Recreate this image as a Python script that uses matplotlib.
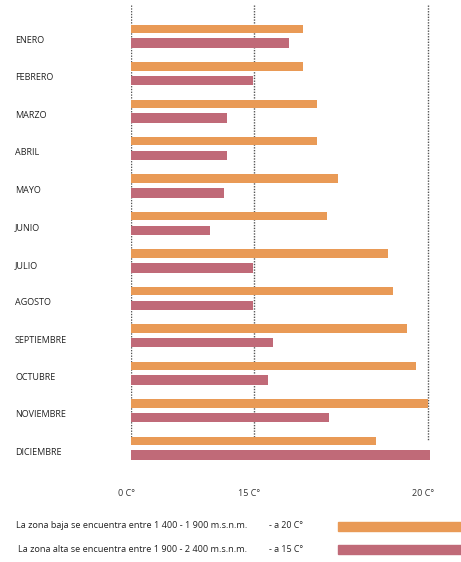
import numpy as np
import matplotlib
matplotlib.use("Agg")
import matplotlib.pyplot as plt
import matplotlib.transforms as mtransforms
from matplotlib.patches import Rectangle

plt.rcParams['font.family'] = ['Open Sans', 'DejaVu Sans']

# data (degrees C)
months = ['ENERO', 'FEBRERO', 'MARZO', 'ABRIL', 'MAYO', 'JUNIO', 'JULIO',
          'AGOSTO', 'SEPTIEMBRE', 'OCTUBRE', 'NOVIEMBRE', 'DICIEMBRE']
zona_baja = [16.4, 16.4, 16.8, 16.8, 17.4, 17.1, 18.85, 19.0, 19.4, 19.65, 20.0, 18.5]
zona_alta = [16.0, 14.9, 11.7, 11.7, 11.3, 9.6, 14.9, 14.9, 15.55, 15.4, 17.15, 20.05]
tick_vals = [0, 15, 20]
tick_labels = ['0 C°', '15 C°', '20 C°']
legend_texts = ['La zona baja se encuentra entre 1 400 - 1 900 m.s.n.m.',
                'La zona alta se encuentra entre 1 900 - 2 400 m.s.n.m.']
legend_temps = ['- a 20 C°', '- a 15 C°']

c_baja = '#E99A56'
c_alta = '#C06A78'


# the axis of the original is not linear: 0-15 is short, 15-20 is long
def fwd(v):
    v = np.asarray(v, dtype=float)
    return np.where(v <= 15, v * 123 / 15, 123 + (v - 15) * 174 / 5)


def inv(p):
    p = np.asarray(p, dtype=float)
    return np.where(p <= 123, p * 15 / 123, 15 + (p - 123) * 5 / 174)


W, H = 461, 562
fig = plt.figure(figsize=(W / 100, H / 100), dpi=100)

x0, x1 = 131, 445.4
top, bottom = 0, 470
ax = fig.add_axes([x0 / W, 1 - bottom / H, (x1 - x0) / W, (bottom - top) / H])
ax.set_xscale('function', functions=(fwd, inv))
ax.set_xlim(0, 20.5)
step = 37.45
ax.set_ylim((bottom - 36) / step, (top - 36) / step)

y = np.arange(len(months))
off = 0.19
ax.barh(y - off, zona_baja, height=8.5 / step, color=c_baja, zorder=3)
ax.barh(y + off, zona_alta, height=9.5 / step, color=c_alta, zorder=3)

ax.vlines(tick_vals, (5 - 36) / step, (440 - 36) / step, colors='#555555',
          linestyles=(0, (1, 1)), linewidth=1.0, zorder=1)

for s in ax.spines.values():
    s.set_visible(False)
ax.set_yticks([])
ax.set_xticks(tick_vals)
ax.set_xticklabels(tick_labels, fontsize=6.5, color='#333333')
ax.tick_params(axis='x', length=0, pad=14)
shift = mtransforms.ScaledTranslation(-5 / 100, 0, fig.dpi_scale_trans)
for lbl in ax.get_xticklabels():
    lbl.set_transform(lbl.get_transform() + shift)

trans = mtransforms.blended_transform_factory(fig.transFigure, ax.transData)
for i, m in enumerate(months):
    ax.text(15 / W, i + 0.12, m, transform=trans, ha='left', va='center',
            fontsize=6.5, color='#222222')

# legend
leg_y = [526, 549]
for k in range(2):
    yy = 1 - leg_y[k] / H
    fig.text(247 / W, yy, legend_texts[k], ha='right', va='center',
             fontsize=6.6, color='#222222')
    fig.text(269 / W, yy, legend_temps[k], ha='left', va='center',
             fontsize=6.4, color='#222222')
    fig.patches.append(Rectangle((338 / W, yy - 4.5 / H), 125 / W, 9 / H,
                                 transform=fig.transFigure,
                                 color=[c_baja, c_alta][k], figure=fig))

fig.savefig('out.png', dpi=100, facecolor='white')
